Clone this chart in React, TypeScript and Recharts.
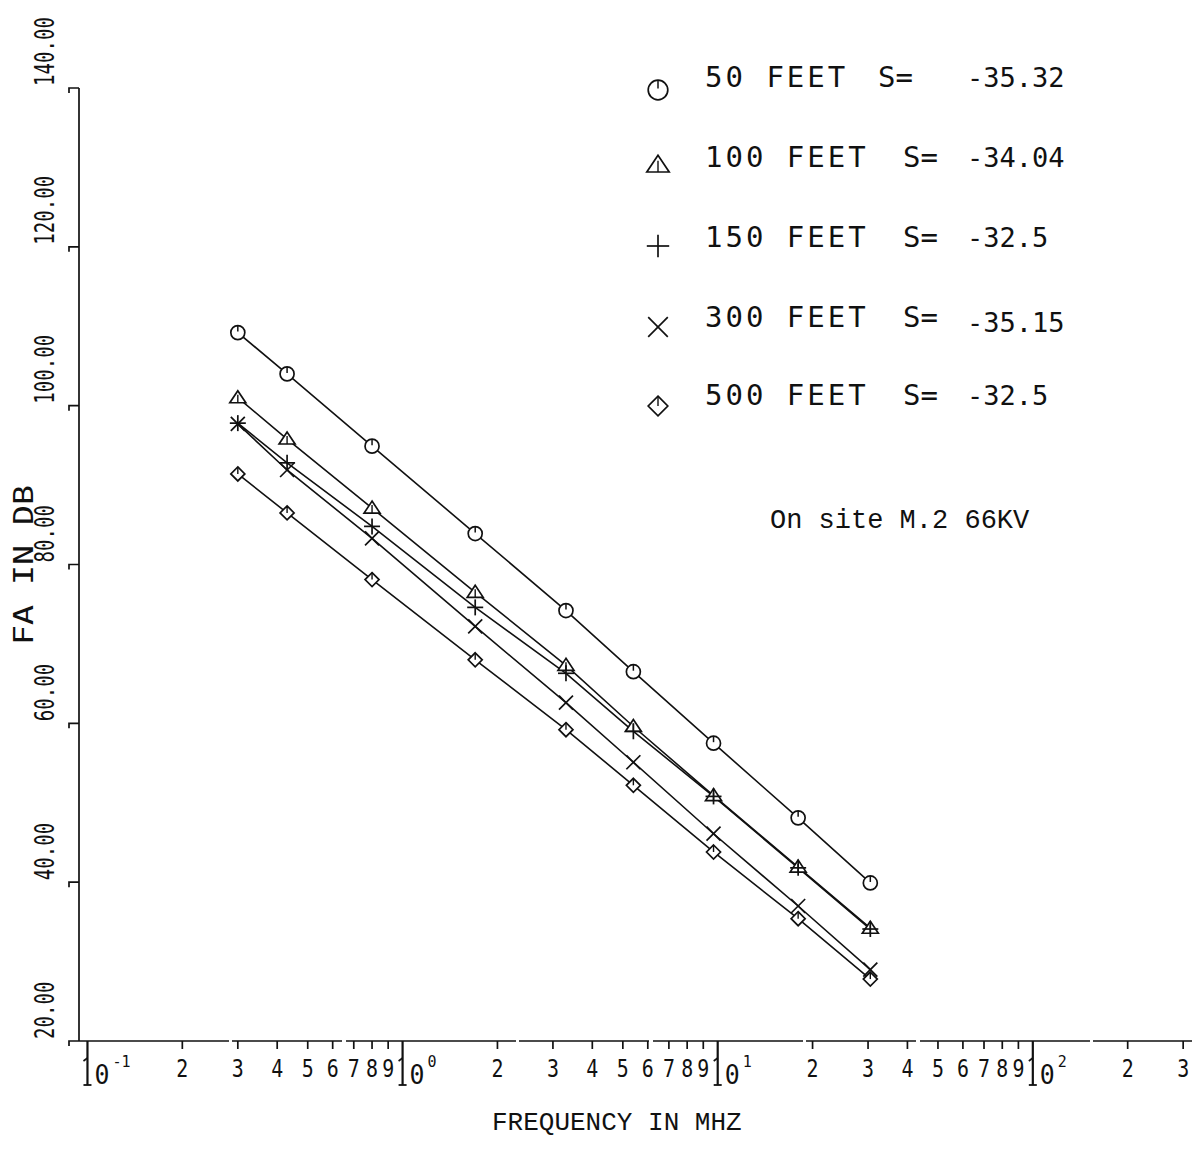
import { Line, LineChart, XAxis, YAxis } from "recharts";

// frequencies of the measured points (MHz) and FA in dB for each distance
const freqMHz = [0.3, 0.43, 0.8, 1.7, 3.3, 5.4, 9.7, 18, 30.5];
const fa50ft = [109.2, 104.0, 94.9, 83.9, 74.2, 66.5, 57.5, 48.1, 39.9];
const fa100ft = [101.0, 95.8, 87.1, 76.5, 67.3, 59.6, 50.9, 41.9, 34.2];
const fa150ft = [97.8, 92.8, 84.8, 74.6, 66.3, 59.0, 50.8, 41.8, 34.1];
const fa300ft = [97.7, 91.9, 83.3, 72.2, 62.6, 55.1, 46.1, 37.0, 29.0];
const fa500ft = [91.4, 86.5, 78.1, 68.0, 59.2, 52.2, 43.8, 35.4, 27.8];

const legendNames = ["50 FEET", "100 FEET", "150 FEET", "300 FEET", "500 FEET"];
const legendSlopes = ["-35.32", "-34.04", "-32.5", "-35.15", "-32.5"];

const xTicks = [
  0.1, 0.2, 0.3, 0.4, 0.5, 0.6, 0.7, 0.8, 0.9,
  1, 2, 3, 4, 5, 6, 7, 8, 9,
  10, 20, 30, 40, 50, 60, 70, 80, 90,
  100, 200, 300,
];
const decadeExp: Record<number, string> = { 0.1: "-1", 1: "0", 10: "1", 100: "2" };
const yTicks = [20, 40, 60, 80, 100, 120, 140];

const data = freqMHz.map((f, i) => ({
  f,
  s50: fa50ft[i],
  s100: fa100ft[i],
  s150: fa150ft[i],
  s300: fa300ft[i],
  s500: fa500ft[i],
}));

const AXIS_X = 79;
const AXIS_Y = 1041;
const plotter = "'DejaVu Sans Mono', monospace";
const typewriter = "'Liberation Mono', 'Courier New', monospace";
const ink = "#111";

type Mark = (cx: number, cy: number, s: number) => JSX.Element;

const circleMark: Mark = (cx, cy, s) => (
  <g>
    <circle cx={cx} cy={cy} r={7 * s} fill="#fff" stroke={ink} strokeWidth={1.7} />
    <line x1={cx} y1={cy - 7 * s} x2={cx} y2={cy - 1 * s} stroke={ink} strokeWidth={1.5} />
  </g>
);
const triangleMark: Mark = (cx, cy, s) => (
  <g>
    <polygon
      points={`${cx},${cy - 7 * s} ${cx - 8 * s},${cy + 5 * s} ${cx + 8 * s},${cy + 5 * s}`}
      fill="#fff"
      stroke={ink}
      strokeWidth={1.7}
    />
    <line x1={cx} y1={cy - 3 * s} x2={cx} y2={cy + 5 * s} stroke={ink} strokeWidth={1.4} />
  </g>
);
const plusMark: Mark = (cx, cy, s) => (
  <g stroke={ink} strokeWidth={1.7}>
    <line x1={cx - 8 * s} y1={cy} x2={cx + 8 * s} y2={cy} />
    <line x1={cx} y1={cy - 8 * s} x2={cx} y2={cy + 8 * s} />
  </g>
);
const crossMark: Mark = (cx, cy, s) => (
  <g stroke={ink} strokeWidth={1.7}>
    <line x1={cx - 7 * s} y1={cy - 7 * s} x2={cx + 7 * s} y2={cy + 7 * s} />
    <line x1={cx - 7 * s} y1={cy + 7 * s} x2={cx + 7 * s} y2={cy - 7 * s} />
  </g>
);
const diamondMark: Mark = (cx, cy, s) => (
  <g>
    <polygon
      points={`${cx},${cy - 7 * s} ${cx + 7 * s},${cy} ${cx},${cy + 7 * s} ${cx - 7 * s},${cy}`}
      fill="#fff"
      stroke={ink}
      strokeWidth={1.7}
    />
    <line x1={cx} y1={cy - 7 * s} x2={cx} y2={cy} stroke={ink} strokeWidth={1.4} />
  </g>
);

const series = [
  { key: "s50", mark: circleMark },
  { key: "s100", mark: triangleMark },
  { key: "s150", mark: plusMark },
  { key: "s300", mark: crossMark },
  { key: "s500", mark: diamondMark },
];

function XTick(props: any) {
  const { x, payload } = props;
  const v = payload.value as number;
  const exp = decadeExp[v];
  if (exp !== undefined) {
    // the long decade tick doubles as the "1" of "10"
    return (
      <g>
        <line x1={x} y1={AXIS_Y} x2={x} y2={AXIS_Y + 44} stroke={ink} strokeWidth={2.2} />
        <line x1={x - 4} y1={AXIS_Y + 44} x2={x + 4} y2={AXIS_Y + 44} stroke={ink} strokeWidth={1.8} />
        <line x1={x - 4} y1={AXIS_Y + 20} x2={x} y2={AXIS_Y + 17} stroke={ink} strokeWidth={1.6} />
        <text x={x + 7} y={AXIS_Y + 43} fontFamily={plotter} fontSize={27} fill={ink} textLength={15} lengthAdjust="spacingAndGlyphs">
          0
        </text>
        <text x={x + 25} y={AXIS_Y + 26} fontFamily={plotter} fontSize={15} fill={ink}>
          {exp}
        </text>
      </g>
    );
  }
  const digit = String(Math.round(v / Math.pow(10, Math.floor(Math.log10(v) + 1e-9))));
  return (
    <g>
      <line x1={x} y1={AXIS_Y} x2={x} y2={AXIS_Y + 8} stroke={ink} strokeWidth={1.7} />
      <text x={x} y={AXIS_Y + 36} textAnchor="middle" fontFamily={plotter} fontSize={25} fill={ink} textLength={12} lengthAdjust="spacingAndGlyphs">
        {digit}
      </text>
    </g>
  );
}

function YTick(props: any) {
  const { y, payload } = props;
  const label = (payload.value as number).toFixed(2);
  return (
    <g>
      <polyline points={`${AXIS_X},${y} ${AXIS_X - 10},${y} ${AXIS_X - 10},${y + 5}`} fill="none" stroke={ink} strokeWidth={1.7} />
      <text
        x={54}
        y={y - 2}
        transform={`rotate(-90, 54, ${y - 2})`}
        fontFamily={plotter}
        fontSize={26}
        fill={ink}
        textLength={label.length * 11.5}
        lengthAdjust="spacingAndGlyphs"
      >
        {label}
      </text>
    </g>
  );
}

function Overlay() {
  const rowsY = [87, 167, 247, 327, 405];
  const markY = [90, 165, 246, 327, 406];
  const sEq = [878, 903, 903, 903, 903];
  return (
    <svg width={1203} height={1150} style={{ position: "absolute", left: 0, top: 0, pointerEvents: "none" }}>
      {series.map((s, i) => (
        <g key={s.key}>
          {s.mark(658, markY[i], 1.4)}
          <text x={705} y={rowsY[i]} fontFamily={plotter} fontSize={29} letterSpacing={3} fill={ink}>
            {legendNames[i]}
          </text>
          <text x={sEq[i]} y={rowsY[i]} fontFamily={plotter} fontSize={29} fill={ink}>
            S=
          </text>
          <text x={967} y={rowsY[i] + (i === 3 ? 5 : 0)} fontFamily={plotter} fontSize={27} fill={ink}>
            {legendSlopes[i]}
          </text>
        </g>
      ))}
      <text x={770} y={528} fontFamily={typewriter} fontSize={27} fill={ink}>
        On site M.2 66KV
      </text>
      <text x={492} y={1130} fontFamily={typewriter} fontSize={26} fill={ink}>
        FREQUENCY IN MHZ
      </text>
      <text
        x={33}
        y={645}
        transform="rotate(-90, 33, 645)"
        fontFamily={plotter}
        fontSize={27}
        fill={ink}
        textLength={160}
        lengthAdjust="spacingAndGlyphs"
      >
        FA IN DB
      </text>
    </svg>
  );
}

export default function App() {
  return (
    <div style={{ position: "absolute", left: 0, top: 0, width: 1203, height: 1150, background: "#fff" }}>
      <LineChart width={1203} height={1150} data={data} margin={{ top: 88, right: 11, bottom: 69, left: 19 }}>
        <XAxis
          dataKey="f"
          type="number"
          scale="log"
          domain={[0.094, 320]}
          allowDataOverflow
          ticks={xTicks}
          interval={0}
          height={40}
          tickLine={false}
          axisLine={{ stroke: ink, strokeWidth: 1.7, strokeDasharray: "150 3 110 4 170 3 130 4" }}
          tick={<XTick />}
        />
        <YAxis
          type="number"
          domain={[20, 140]}
          ticks={yTicks}
          interval={0}
          width={60}
          tickLine={false}
          axisLine={{ stroke: ink, strokeWidth: 1.7 }}
          tick={<YTick />}
        />
        {series.map((s) => (
          <Line
            key={s.key}
            dataKey={s.key}
            type="linear"
            stroke={ink}
            strokeWidth={1.6}
            isAnimationActive={false}
            dot={(p: any) => <g key={`${s.key}-${p.index}`}>{s.mark(p.cx, p.cy, 1)}</g>}
            activeDot={false}
          />
        ))}
      </LineChart>
      <Overlay />
    </div>
  );
}
